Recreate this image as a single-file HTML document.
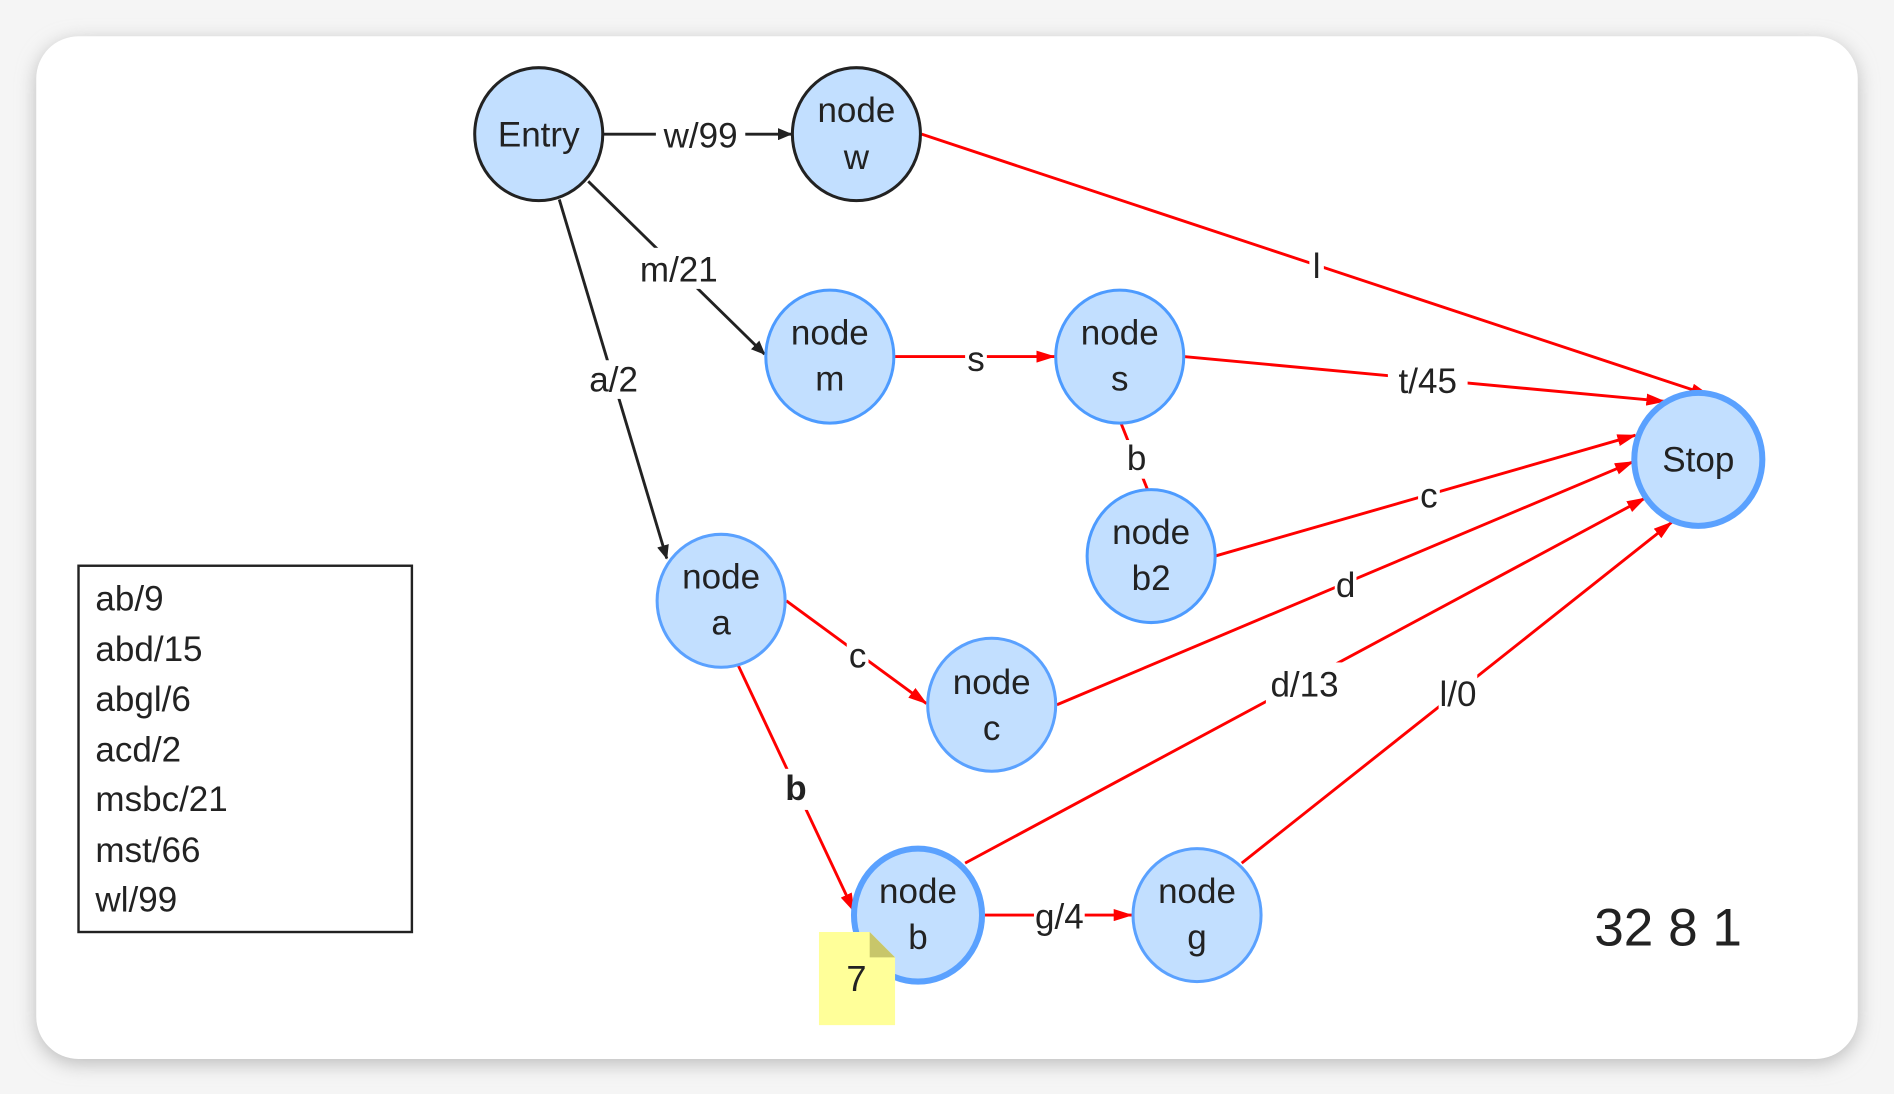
<!DOCTYPE html>
<html><head><style>
html,body{margin:0;padding:0;background:#f4f4f4;}
svg{display:block}
text{font-family:"Liberation Sans",Arial,sans-serif;fill:#222}
</style></head><body>
<svg width="1894" height="1094" viewBox="0 0 1568 905" preserveAspectRatio="none" xmlns="http://www.w3.org/2000/svg">
<defs>
<filter id="sh" x="-5%" y="-5%" width="110%" height="110%"><feGaussianBlur stdDeviation="8"/></filter>
<marker id="ab" markerWidth="12" markerHeight="10" refX="11" refY="5" orient="auto" markerUnits="userSpaceOnUse"><path d="M0,0 L12,5 L0,10 z" fill="#222"/></marker>
<marker id="ar" markerWidth="16" markerHeight="10" refX="15" refY="5" orient="auto" markerUnits="userSpaceOnUse"><path d="M0,0 L16,5 L0,10 z" fill="#f00"/></marker>
</defs>
<rect x="0" y="0" width="1568" height="905" fill="#f5f5f5"/>
<rect x="30" y="34" width="1508" height="846" rx="35" fill="#bbb" filter="url(#sh)"/>
<rect x="30" y="30" width="1508" height="846" rx="35" fill="#fff"/>

<g fill="none" stroke-width="2.4">
<line x1="500" y1="111" x2="655" y2="111" stroke="#222" marker-end="url(#ab)"/>
<line x1="487" y1="150" x2="633" y2="293" stroke="#222" marker-end="url(#ab)"/>
<line x1="463" y1="165" x2="552" y2="462" stroke="#222" marker-end="url(#ab)"/>
<line x1="763" y1="111" x2="1415" y2="327" stroke="#f00" marker-end="url(#ar)"/>
<line x1="741" y1="295" x2="873" y2="295" stroke="#f00" marker-end="url(#ar)"/>
<line x1="980" y1="295" x2="1378" y2="332" stroke="#f00" marker-end="url(#ar)"/>
<line x1="928" y1="350" x2="950" y2="405" stroke="#f00"/>
<line x1="1006" y1="460" x2="1354" y2="360" stroke="#f00" marker-end="url(#ar)"/>
<line x1="651" y1="497" x2="767" y2="582" stroke="#f00" marker-end="url(#ar)"/>
<line x1="875" y1="583" x2="1352" y2="382" stroke="#f00" marker-end="url(#ar)"/>
<line x1="610" y1="548" x2="707" y2="754" stroke="#f00" marker-end="url(#ar)"/>
<line x1="799" y1="714" x2="1362" y2="412" stroke="#f00" marker-end="url(#ar)"/>
<line x1="815" y1="757" x2="937" y2="757" stroke="#f00" marker-end="url(#ar)"/>
<line x1="1028" y1="714" x2="1384" y2="432" stroke="#f00" marker-end="url(#ar)"/>
</g>

<g font-size="29" text-anchor="middle">
<rect x="543" y="96" width="74" height="30" fill="#fff"/><text x="580" y="122">w/99</text>
<rect x="524" y="205" width="76" height="34" fill="#fff"/><text x="562" y="233">m/21</text>
<rect x="488" y="298" width="42" height="32" fill="#fff"/><text x="508" y="324">a/2</text>
<rect x="1084" y="204" width="12" height="32" fill="#fff"/><text x="1090" y="230">l</text>
<rect x="799" y="282" width="18" height="30" fill="#fff"/><text x="808" y="307">s</text>
<rect x="1149" y="298" width="66" height="34" fill="#fff"/><text x="1182" y="325">t/45</text>
<rect x="932" y="364" width="18" height="32" fill="#fff"/><text x="941" y="389">b</text>
<rect x="1174" y="396" width="18" height="30" fill="#fff"/><text x="1183" y="420">c</text>
<rect x="701" y="528" width="18" height="30" fill="#fff"/><text x="710" y="552">c</text>
<rect x="1105" y="470" width="18" height="30" fill="#fff"/><text x="1114" y="494">d</text>
<rect x="649" y="636" width="20" height="34" fill="#fff"/><text x="659" y="662" font-weight="bold">b</text>
<rect x="1048" y="548" width="64" height="34" fill="#fff"/><text x="1080" y="576">d/13</text>
<rect x="856" y="742" width="42" height="32" fill="#fff"/><text x="877" y="768">g/4</text>
<rect x="1191" y="558" width="32" height="32" fill="#fff"/><text x="1207" y="584">l/0</text>
</g>

<g fill="#c2dfff" stroke-width="2.5">
<ellipse cx="446" cy="111" rx="53" ry="55" stroke="#222"/>
<ellipse cx="709" cy="111" rx="53" ry="55" stroke="#222"/>
<ellipse cx="687" cy="295" rx="53" ry="55" stroke="#4d9bff"/>
<ellipse cx="927" cy="295" rx="53" ry="55" stroke="#4d9bff"/>
<ellipse cx="953" cy="460" rx="53" ry="55" stroke="#4d9bff"/>
<ellipse cx="1406" cy="380" rx="53" ry="55" stroke="#5aa1ff" stroke-width="5"/>
<ellipse cx="597" cy="497" rx="53" ry="55" stroke="#5aa1ff"/>
<ellipse cx="821" cy="583" rx="53" ry="55" stroke="#5aa1ff"/>
<ellipse cx="760" cy="757" rx="53" ry="55" stroke="#5aa1ff" stroke-width="5"/>
<ellipse cx="991" cy="757" rx="53" ry="55" stroke="#5aa1ff"/>
</g>

<g font-size="29" text-anchor="middle">
<text x="446" y="121">Entry</text>
<text x="709" y="101">node</text><text x="709" y="140">w</text>
<text x="687" y="285">node</text><text x="687" y="323">m</text>
<text x="927" y="285">node</text><text x="927" y="323">s</text>
<text x="953" y="450">node</text><text x="953" y="488">b2</text>
<text x="1406" y="390">Stop</text>
<text x="597" y="487">node</text><text x="597" y="525">a</text>
<text x="821" y="574">node</text><text x="821" y="612">c</text>
<text x="760" y="747">node</text><text x="760" y="785">b</text>
<text x="991" y="747">node</text><text x="991" y="785">g</text>
</g>

<path d="M678,771 L720,771 L741,792 L741,848 L678,848 z" fill="#ffff99"/>
<path d="M720,771 L741,792 L720,792 z" fill="#c8c66a"/>
<text x="709" y="820" font-size="30" text-anchor="middle">7</text>

<rect x="65" y="468" width="276" height="303" fill="#fff" stroke="#222" stroke-width="2"/>
<g font-size="29">
<text x="79" y="505">ab/9</text>
<text x="79" y="547">abd/15</text>
<text x="79" y="588">abgl/6</text>
<text x="79" y="630">acd/2</text>
<text x="79" y="671">msbc/21</text>
<text x="79" y="713">mst/66</text>
<text x="79" y="754">wl/99</text>
</g>
<text x="1381" y="782" font-size="44" text-anchor="middle">32 8 1</text>
</svg>
</body></html>
